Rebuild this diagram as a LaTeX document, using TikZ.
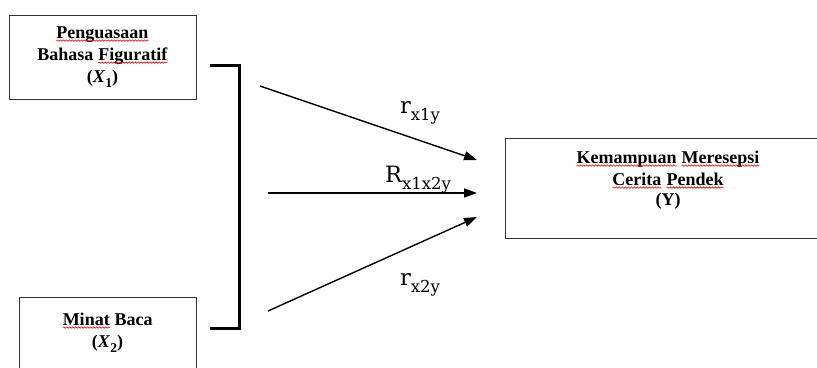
\documentclass[tikz,border=0pt]{standalone}
\usepackage{fontspec}
\setmainfont{Liberation Serif}
\newfontfamily\lblfont{DejaVu Serif}
\usetikzlibrary{arrows.meta,decorations.pathmorphing}
% red wavy proof-reading mark under a word
\newcommand\spellmark[1]{\tikz[baseline=(sw.base)]{\node[inner sep=0pt,outer sep=0pt](sw){#1};\draw[red!90!black,line width=0.6pt,decorate,decoration={snake,amplitude=0.7pt,segment length=3pt}]([yshift=-2.6pt]sw.base west)--([yshift=-2.6pt]sw.base east);}}
% lowered index for the variable names
\newcommand\sbx[1]{\raisebox{-0.3em}{\fontsize{13.5}{13.5}\selectfont #1}}
\newcommand\sbl[1]{\raisebox{-0.32em}{\fontsize{16.5}{16.5}\selectfont #1}}
\begin{document}
\begin{tikzpicture}[x=1pt,y=-1pt,
  box/.style={draw=black!80,line width=1pt,inner sep=0pt},
  boxtext/.style={font=\fontsize{18}{22}\selectfont\bfseries,inner sep=0pt,anchor=base},
  conn/.style={line width=1.4pt,-{Triangle[length=13pt,width=9pt]}},
  lbl/.style={font=\lblfont\fontsize{22.5}{22.5}\selectfont,inner sep=0pt,anchor=base}]
\clip (0,0) rectangle (817,367);

% variable boxes
\node[box,minimum width=187pt,minimum height=84pt] (x1) at (102.5,57) {};
\node[box,minimum width=177pt,minimum height=100pt] (x2) at (107.5,347) {};
\node[box,minimum width=326pt,minimum height=100pt] (y) at (668,188) {};

\node[boxtext] (x1a) at (102.5,38) {\spellmark{Penguasaan}};
\node[boxtext] (x1b) at (102.5,60) {Bahasa \spellmark{Figuratif}};
\node[boxtext] (x1c) at (102.5,82) {(\textit{X}\sbx{1})};

\node[boxtext] (x2a) at (107.5,325) {\spellmark{Minat} Baca};
\node[boxtext] (x2b) at (107.5,347) {(\textit{X}\sbx{2})};

\node[boxtext] (ya) at (668,163) {\spellmark{Kemampuan} \spellmark{Meresepsi}};
\node[boxtext] (yb) at (668,185) {\spellmark{Cerita} \spellmark{Pendek}};
\node[boxtext] (yc) at (668,205) {(Y)};

% bracket joining both predictors
\coordinate (bt) at (210,65);
\coordinate (bc) at (239,65);
\coordinate (bd) at (239,328);
\coordinate (bb) at (210,328);
\draw[line width=3pt,line join=miter] (bt) -- (bc) -- (bd) -- (bb);

% correlation arrows
\coordinate (a1s) at (260,86);
\coordinate (a1e) at (477,160);
\coordinate (a2s) at (268,193);
\coordinate (a2e) at (477,193);
\coordinate (a3s) at (268,311);
\coordinate (a3e) at (477,217);
\draw[conn] (a1s) -- (a1e);
\draw[conn] (a2s) -- (a2e);
\draw[conn] (a3s) -- (a3e);

\node[lbl] (l1) at (420,113) {r\sbl{x1y}};
\node[lbl] (l2) at (418,182) {R\sbl{x1x2y}};
\node[lbl] (l3) at (420,285) {r\sbl{x2y}};
\end{tikzpicture}
\end{document}
